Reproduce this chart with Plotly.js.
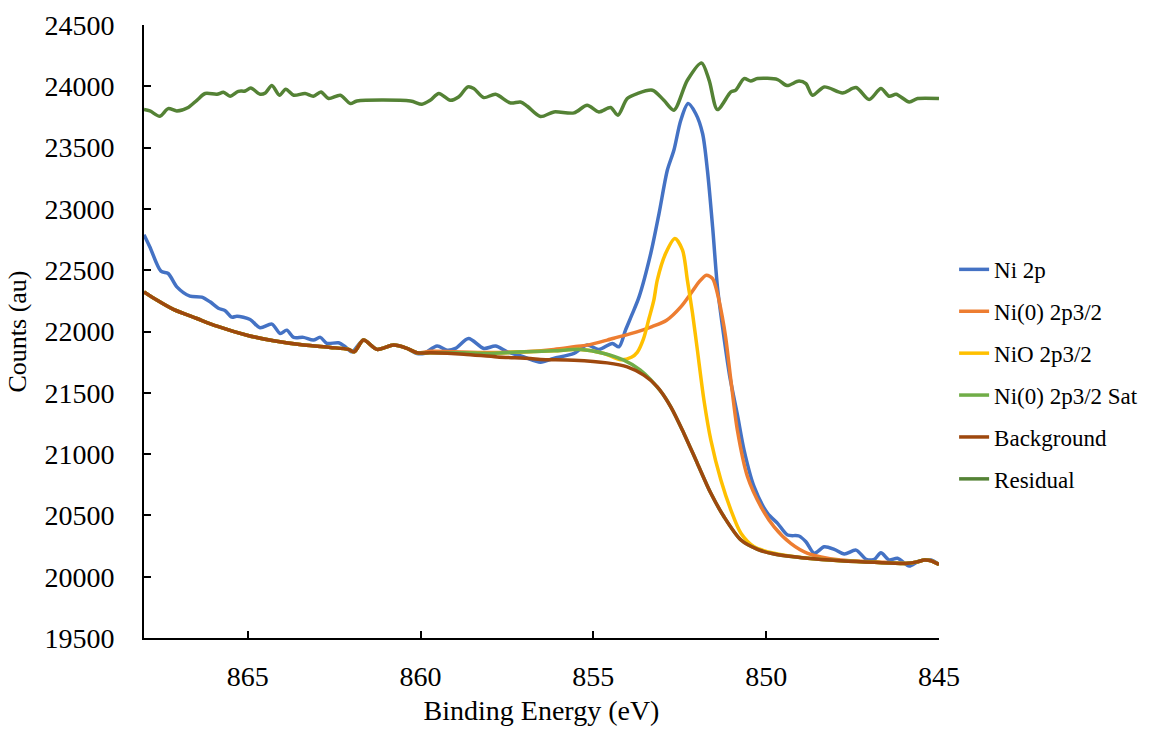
<!DOCTYPE html>
<html>
<head>
<meta charset="utf-8">
<script src="https://cdn.plot.ly/plotly-3.0.1.min.js"></script>
<style>
  html, body { margin: 0; padding: 0; background: #ffffff; font-family: "Liberation Serif", serif; }
  #chart { width: 1149px; height: 731px; }
  #chart text { font-family: "Liberation Serif", serif !important; }
</style>
</head>
<body>
<div id="chart"></div>
<script>
// ---- Data ----
const seriesNames = ["Ni 2p", "Ni(0) 2p3/2", "NiO 2p3/2", "Ni(0) 2p3/2 Sat", "Background", "Residual"];

const ni2pE = [868.0, 867.83, 867.51, 867.30, 867.05, 866.67, 866.33, 866.09, 865.85, 865.65, 865.46, 865.31, 864.93, 864.64, 864.30, 864.06, 863.87, 863.67, 863.39, 863.10, 862.90, 862.71, 862.37, 862.18, 861.98, 861.65, 861.26, 860.78, 860.39, 860.10, 859.91, 859.52, 859.23, 858.99, 858.61, 858.17, 857.83, 857.49, 857.01, 856.53, 856.15, 855.56, 855.18, 854.84, 854.45, 854.26, 854.07, 853.89, 853.68, 853.34, 853.10, 852.86, 852.67, 852.47, 852.26, 852.04, 851.84, 851.70, 851.55, 851.41, 851.27, 851.06, 850.83, 850.64, 850.35, 849.96, 849.67, 849.38, 849.05, 848.85, 848.61, 848.32, 848.03, 847.74, 847.40, 847.11, 846.87, 846.68, 846.44, 846.20, 845.86, 845.62, 845.42, 845.23, 845.0];
const ni2pCounts = [22790, 22690, 22492, 22473, 22364, 22288, 22280, 22242, 22190, 22170, 22117, 22125, 22098, 22030, 22060, 21984, 22011, 21952, 21952, 21930, 21952, 21903, 21908, 21875, 21834, 21930, 21854, 21889, 21862, 21821, 21821, 21881, 21848, 21862, 21943, 21862, 21881, 21834, 21793, 21750, 21780, 21821, 21889, 21854, 21903, 21875, 22011, 22133, 22280, 22636, 22962, 23315, 23478, 23723, 23859, 23778, 23615, 23315, 22853, 22364, 22052, 21644, 21318, 21033, 20734, 20517, 20435, 20340, 20332, 20285, 20191, 20244, 20223, 20185, 20217, 20142, 20142, 20196, 20136, 20150, 20087, 20122, 20136, 20136, 20100];

const ni0E = [868.0, 867.63, 867.15, 866.47, 865.89, 865.02, 864.25, 863.38, 862.61, 862.08, 861.92, 861.65, 861.26, 860.78, 860.39, 860.10, 859.71, 858.07, 857.0, 856.14, 855.56, 855.18, 854.60, 854.41, 853.74, 853.3, 852.88, 852.47, 852.18, 851.94, 851.73, 851.55, 851.41, 851.27, 851.17, 851.02, 850.83, 850.54, 850.15, 849.77, 849.29, 848.80, 847.84, 846.87, 845.91, 845.62, 845.42, 845.23, 845.0];
const ni0Counts = [22323, 22256, 22180, 22106, 22044, 21970, 21924, 21889, 21870, 21854, 21834, 21930, 21854, 21889, 21862, 21826, 21838, 21828, 21835, 21854, 21875, 21889, 21930, 21945, 21997, 22040, 22092, 22201, 22310, 22405, 22459, 22432, 22310, 22119, 21950, 21600, 21190, 20815, 20570, 20407, 20272, 20191, 20136, 20122, 20109, 20122, 20136, 20130, 20100];

const nioE = [868.0, 867.63, 867.15, 866.47, 865.89, 865.02, 864.25, 863.38, 862.61, 862.08, 861.92, 861.65, 861.26, 860.78, 860.39, 860.10, 859.71, 858.75, 858.07, 857.2, 856.14, 855.37, 854.69, 854.21, 853.9, 853.73, 853.55, 853.39, 853.25, 853.15, 852.91, 852.64, 852.42, 852.28, 852.13, 851.99, 851.80, 851.60, 851.31, 851.02, 850.73, 850.35, 849.77, 848.80, 847.84, 846.87, 845.91, 845.62, 845.42, 845.23, 845.0];
const nioCounts = [22323, 22256, 22180, 22106, 22044, 21970, 21924, 21889, 21870, 21854, 21834, 21930, 21854, 21889, 21862, 21826, 21826, 21826, 21821, 21832, 21842, 21854, 21821, 21770, 21790, 21830, 21940, 22106, 22256, 22419, 22636, 22759, 22663, 22419, 22147, 21848, 21440, 21114, 20788, 20543, 20354, 20244, 20191, 20150, 20130, 20117, 20109, 20122, 20136, 20130, 20100];

const satE = [868.0, 867.63, 867.15, 866.47, 865.89, 865.02, 864.25, 863.38, 862.61, 862.08, 861.92, 861.65, 861.26, 860.78, 860.39, 860.10, 859.71, 858.75, 858.07, 857.2, 856.14, 855.37, 854.69, 854.12, 853.64, 853.06, 852.76, 852.38, 851.99, 851.60, 851.22, 850.73, 850.25, 849.77, 848.80, 847.84, 846.87, 845.91, 845.62, 845.42, 845.23, 845.0];
const satCounts = [22323, 22256, 22180, 22106, 22044, 21970, 21924, 21889, 21870, 21854, 21834, 21930, 21854, 21889, 21862, 21826, 21826, 21826, 21821, 21832, 21842, 21854, 21821, 21766, 21685, 21515, 21386, 21169, 20924, 20680, 20489, 20299, 20223, 20185, 20150, 20130, 20117, 20109, 20122, 20136, 20130, 20100];

const bgE = [868.0, 867.63, 867.15, 866.47, 865.89, 865.02, 864.25, 863.38, 862.61, 862.08, 861.92, 861.65, 861.26, 860.78, 860.39, 860.10, 859.71, 858.75, 857.78, 856.82, 856.53, 855.56, 854.60, 854.02, 853.54, 853.15, 852.76, 852.38, 851.99, 851.60, 851.22, 850.73, 850.25, 849.77, 848.80, 847.84, 846.87, 845.91, 845.62, 845.42, 845.23, 845.0];
const bgCounts = [22323, 22256, 22180, 22106, 22044, 21970, 21924, 21889, 21870, 21854, 21834, 21930, 21854, 21889, 21862, 21826, 21826, 21815, 21793, 21780, 21772, 21766, 21744, 21712, 21644, 21549, 21386, 21169, 20924, 20680, 20489, 20299, 20223, 20185, 20150, 20130, 20117, 20109, 20122, 20136, 20130, 20100];

const resE = [868.0, 867.83, 867.54, 867.30, 867.05, 866.72, 866.47, 866.23, 865.89, 865.70, 865.51, 865.27, 865.07, 864.91, 864.64, 864.49, 864.30, 864.08, 863.90, 863.67, 863.34, 863.10, 862.88, 862.66, 862.32, 862.03, 861.84, 860.29, 859.96, 859.72, 859.47, 859.14, 858.90, 858.63, 858.46, 858.17, 857.83, 857.40, 857.11, 856.91, 856.53, 856.14, 855.56, 855.18, 854.84, 854.50, 854.29, 854.02, 853.73, 853.29, 852.96, 852.67, 852.28, 851.87, 851.65, 851.41, 851.02, 850.88, 850.64, 850.45, 850.25, 849.67, 849.40, 849.05, 848.85, 848.66, 848.32, 847.79, 847.40, 847.02, 846.68, 846.44, 846.24, 845.86, 845.62, 845.0];
const resCounts = [23810, 23799, 23756, 23818, 23799, 23827, 23886, 23941, 23935, 23951, 23919, 23959, 23962, 23986, 23935, 23946, 24006, 23927, 23976, 23927, 23941, 23919, 23954, 23900, 23927, 23859, 23880, 23880, 23854, 23886, 23941, 23886, 23913, 23995, 23982, 23908, 23935, 23864, 23872, 23837, 23753, 23791, 23783, 23845, 23791, 23827, 23764, 23900, 23941, 23968, 23886, 23805, 24049, 24190, 24049, 23810, 23954, 23968, 24063, 24043, 24063, 24055, 24006, 24043, 24022, 23927, 23995, 23946, 23990, 23892, 23982, 23919, 23935, 23872, 23900, 23900];

const xTickVals = [865, 860, 855, 850, 845];
const yTickVals = [19500, 20000, 20500, 21000, 21500, 22000, 22500, 23000, 23500, 24000, 24500];

// ---- Styling ----
const colors = ["#4472C4", "#ED7D31", "#FFC000", "#70AD47", "#9E480E", "#548235"];
const SERIF = 'Liberation Serif, serif';
const xs = [ni2pE, ni0E, nioE, satE, bgE, resE];
const ys = [ni2pCounts, ni0Counts, nioCounts, satCounts, bgCounts, resCounts];

const traces = seriesNames.map((name, i) => ({
  type: 'scatter',
  mode: 'lines',
  name: name,
  x: xs[i],
  y: ys[i],
  legendgroup: 'g' + i,
  line: { color: colors[i], width: 3.5, shape: 'spline', smoothing: 0.8 }
}));

const layout = {
  width: 1149,
  height: 731,
  paper_bgcolor: '#ffffff',
  plot_bgcolor: '#ffffff',
  margin: { l: 144, r: 210, t: 25, b: 93, pad: 0, autoexpand: false },
  font: { family: SERIF, color: '#000000', size: 24 },
  showlegend: true,
  legend: {
    x: 1.019, xanchor: 'left',
    y: 0.43, yanchor: 'middle',
    font: { family: SERIF, size: 23, color: '#000000' },
    bgcolor: 'rgba(0,0,0,0)',
    borderwidth: 0,
    tracegroupgap: 9
  },
  xaxis: {
    range: [868, 845],
    autorange: false,
    automargin: false,
    tickmode: 'array',
    tickvals: xTickVals,
    ticktext: xTickVals.map(String),
    ticks: 'inside',
    ticklen: 7,
    tickwidth: 1.5,
    tickcolor: '#000000',
    showline: true,
    linecolor: '#000000',
    linewidth: 2,
    showgrid: false,
    zeroline: false,
    tickfont: { family: SERIF, size: 28, color: '#000000' },
    ticklabelstandoff: 12,
    title: { text: 'Binding Energy (eV)', font: { family: SERIF, size: 28, color: '#000000' }, standoff: 10 }
  },
  yaxis: {
    range: [19500, 24500],
    autorange: false,
    automargin: false,
    tickmode: 'array',
    tickvals: yTickVals,
    ticktext: yTickVals.map(String),
    ticks: 'inside',
    ticklen: 7,
    tickwidth: 1.5,
    tickcolor: '#000000',
    showline: true,
    linecolor: '#000000',
    linewidth: 2,
    showgrid: false,
    zeroline: false,
    tickfont: { family: SERIF, size: 28, color: '#000000' },
    ticklabelstandoff: 22,
    title: { text: 'Counts (au)', font: { family: SERIF, size: 26, color: '#000000' }, standoff: 10 }
  }
};

Plotly.newPlot('chart', traces, layout, { displayModeBar: false });
</script>
</body>
</html>
